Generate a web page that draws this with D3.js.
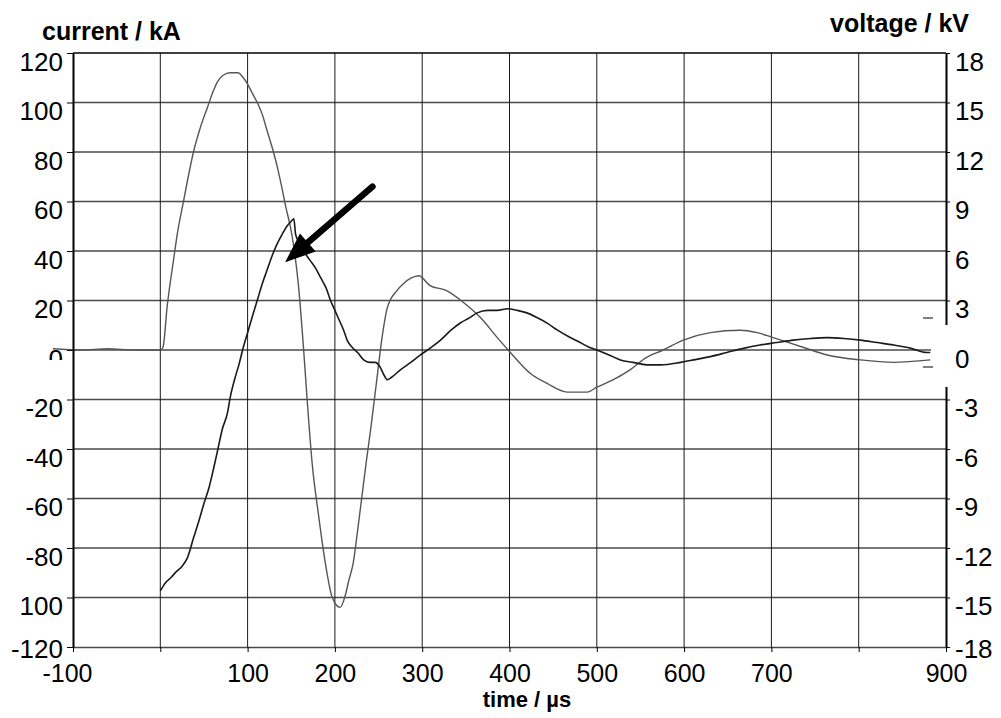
<!DOCTYPE html>
<html>
<head>
<meta charset="utf-8">
<script src="https://cdn.jsdelivr.net/npm/d3@7"></script>
<style>
  body { margin: 0; background: #fff; }
  svg text { font-family: "Liberation Sans", Arial, sans-serif; }
</style>
</head>
<body>
<div id="chart"></div>
<script>
// tick values and their labels (as printed on the original)
var timeTicks = [-100, 0, 100, 200, 300, 400, 500, 600, 700, 800, 900];
var timeLabels = ["-100", "", "100", "200", "300", "400", "500", "600", "700", "", "900"];
var currentTicks = [-120, -100, -80, -60, -40, -20, 0, 20, 40, 60, 80, 100, 120];
var currentLabels = ["-120", "100", "-80", "-60", "-40", "-20", "0", "20", "40", "60", "80", "100", "120"];
var voltageTicks = [-18, -15, -12, -9, -6, -3, 0, 3, 6, 9, 12, 15, 18];
var voltageLabels = ["-18", "-15", "-12", "-9", "-6", "-3", "0", "3", "6", "9", "12", "15", "18"];

// current trace (µs, kA)
var currentTime = [-123, -90, -60, -30, 0, 3, 8, 15, 20, 26, 32, 38, 46, 54, 60, 65, 72, 80, 89, 95, 99,
  105, 111, 117, 122, 128, 134, 139, 143, 151, 158, 164, 168, 174, 181, 189, 197, 206, 212, 216, 221,
  226, 231, 236, 241, 248, 254, 260, 271, 279, 287, 296, 309, 328, 348, 367, 386, 401, 424, 443, 466,
  489, 500, 519, 538, 557, 576, 599, 630, 664, 684, 702, 737, 764, 802, 840, 882];
var currentKA = [0.5, 0, 0.5, 0, 0, 1, 18, 36, 48, 59, 70, 80, 90, 98, 104, 108, 111, 112, 112, 110, 108,
  104, 100, 95, 89, 82, 74, 66, 59, 46, 27, 1, -19, -46, -66, -86, -100, -104, -99, -93, -86,
  -73, -59, -45, -32, -12, 5, 17, 24, 27, 29, 30, 26, 24, 19, 13, 5, -1, -9.5, -13.5, -17,
  -17, -15, -12, -8, -3, 0, 4, 7, 8, 7, 5, 1, -2, -4, -5, -4];

// voltage trace (µs, kV)
var voltageTime = [0, 6, 12, 19, 25, 31, 38, 44, 50, 56, 61, 66, 71, 77, 80, 85, 90, 95, 100, 105, 111,
  117, 122, 128, 134, 140, 145, 150, 153, 155, 160, 166, 172, 178, 184, 190, 195, 200, 205, 210, 214,
  220, 226, 233, 240, 246, 252, 256, 260, 265, 275, 287, 298, 310, 321, 333, 344, 354, 363, 375, 386,
  398, 409, 420, 432, 444, 455, 468, 481, 490, 500, 514, 527, 542, 557, 573, 596, 611, 630, 649, 668,
  687, 706, 725, 745, 764, 783, 802, 821, 840, 860, 878, 882];
var voltageKV = [-14.6, -14.1, -13.8, -13.4, -13.1, -12.6, -11.4, -10.4, -9.3, -8.3, -7.2, -6.0, -4.8, -3.8, -2.9, -1.8, -0.9, 0.15, 1.05, 1.95, 3.0,
  4.05, 4.8, 5.7, 6.45, 7.05, 7.5, 7.8, 7.95, 7.0, 6.45, 5.85, 5.4, 4.95, 4.35, 3.75, 3.0, 2.4, 1.8, 1.2, 0.6,
  0.15, -0.15, -0.6, -0.75, -0.75, -1.05, -1.5, -1.8, -1.65, -1.2, -0.75, -0.3, 0.15, 0.6, 1.2, 1.65, 1.95, 2.25, 2.4, 2.4,
  2.5, 2.4, 2.25, 1.95, 1.6, 1.2, 0.8, 0.45, 0.2, 0, -0.3, -0.6, -0.75, -0.9, -0.9, -0.75, -0.6, -0.4, -0.15, 0.1,
  0.3, 0.45, 0.6, 0.7, 0.75, 0.7, 0.6, 0.45, 0.3, 0.1, -0.15, -0.15];

// annotation arrow: tail and tip in (µs, kA)
var arrowTail = [243, 66];
var arrowTip = [143, 35.5];

var margin = {top: 53, right: 55, bottom: 71, left: 73},
    W = 1001, H = 718,
    width = W - margin.left - margin.right,
    height = H - margin.top - margin.bottom;

var svg = d3.select("#chart").append("svg")
    .attr("width", W).attr("height", H);
var g = svg.append("g")
    .attr("transform", "translate(" + margin.left + "," + margin.top + ")");

var x = d3.scaleLinear().domain([-100, 900]).range([0, width]);
var y = d3.scaleLinear().domain([-120, 120]).range([height, 0]);
var yv = d3.scaleLinear().domain([-18, 18]).range([height, 0]);

// grid
g.append("g").selectAll("line")
    .data(currentTicks.slice(1, -1))
    .enter().append("line")
    .attr("x1", 0).attr("x2", width)
    .attr("y1", function(d) { return y(d); })
    .attr("y2", function(d) { return y(d); })
    .attr("stroke", "#4a4a4a").attr("stroke-width", 1.3);
g.append("g").selectAll("line")
    .data(timeTicks.slice(1, -1))
    .enter().append("line")
    .attr("y1", 0).attr("y2", height)
    .attr("x1", function(d) { return x(d); })
    .attr("x2", function(d) { return x(d); })
    .attr("stroke", "#1a1a1a").attr("stroke-width", 1);

// traces
var cur = currentTime.map(function(t, i) { return [t, currentKA[i]]; });
var vol = voltageTime.map(function(t, i) { return [t, voltageKV[i]]; });

g.append("path").datum(cur)
    .attr("fill", "none").attr("stroke", "#555").attr("stroke-width", 1.4)
    .attr("d", d3.line()
        .x(function(d) { return x(d[0]); })
        .y(function(d) { return y(d[1]); })
        .curve(d3.curveMonotoneX));

g.append("path").datum(vol)
    .attr("fill", "none").attr("stroke", "#1a1a1a").attr("stroke-width", 1.6)
    .attr("d", d3.line()
        .x(function(d) { return x(d[0]); })
        .y(function(d) { return yv(d[1]); })
        .curve(d3.curveMonotoneX));

// arrow
var ax0 = x(arrowTail[0]), ay0 = y(arrowTail[1]),
    ax1 = x(arrowTip[0]), ay1 = y(arrowTip[1]);
var ang = Math.atan2(ay1 - ay0, ax1 - ax0),
    headLen = 30, headHalf = 12;
var bx = ax1 - headLen * Math.cos(ang), by = ay1 - headLen * Math.sin(ang);
g.append("line")
    .attr("x1", ax0).attr("y1", ay0).attr("x2", bx).attr("y2", by)
    .attr("stroke", "#000").attr("stroke-width", 6.5).attr("stroke-linecap", "round");
g.append("path")
    .attr("d", "M" + ax1 + "," + ay1 +
        "L" + (bx + headHalf * Math.sin(ang)) + "," + (by - headHalf * Math.cos(ang)) +
        "L" + (bx - headHalf * Math.sin(ang)) + "," + (by + headHalf * Math.cos(ang)) + "Z")
    .attr("fill", "#000");

// axes
var xAxis = g.append("g")
    .attr("transform", "translate(0," + height + ")")
    .call(d3.axisBottom(x).tickValues(timeTicks)
        .tickFormat(function(d, i) { return timeLabels[i]; })
        .tickSize(5).tickSizeOuter(0));
xAxis.select(".domain").attr("stroke", "#4a4a4a").attr("stroke-width", 1.5);
xAxis.selectAll("text").attr("y", 35).attr("dy", 0)
    .attr("font-size", 25).attr("fill", "#000");
xAxis.selectAll("text").filter(function(d) { return d === -100; }).attr("dx", -6);

var yAxis = g.append("g")
    .call(d3.axisLeft(y).tickValues(currentTicks)
        .tickFormat(function(d, i) { return currentLabels[i]; })
        .tickSize(6).tickSizeOuter(0));
yAxis.select(".domain").attr("stroke", "#000").attr("stroke-width", 2);
yAxis.selectAll("text").attr("x", -10)
    .attr("dy", function(d) { return d === -120 ? 10 : 17; })
    .attr("font-size", 26).attr("fill", "#000");

var yvAxis = g.append("g")
    .attr("transform", "translate(" + width + ",0)")
    .call(d3.axisRight(yv).tickValues(voltageTicks)
        .tickFormat(function(d, i) { return voltageLabels[i]; })
        .tickSize(4).tickSizeOuter(0));
yvAxis.select(".domain").attr("stroke", "#000").attr("stroke-width", 2);
yvAxis.selectAll("text").attr("x", 9)
    .attr("dy", function(d) { return d === -18 ? 10 : 17; })
    .attr("font-size", 26).attr("fill", "#000");

// top frame line
g.append("line")
    .attr("x1", 0).attr("x2", width).attr("y1", 0).attr("y2", 0)
    .attr("stroke", "#000").attr("stroke-width", 1.5);

// white patches seen on the original (clipped labels / axis break)
svg.append("rect")
    .attr("x", 0).attr("y", margin.top + y(0) + 10)
    .attr("width", margin.left - 7).attr("height", 37)
    .attr("fill", "#fff");
svg.append("rect")
    .attr("x", margin.left + width - 15).attr("y", margin.top + y(0) - 25)
    .attr("width", 22).attr("height", 62)
    .attr("fill", "#fff");
[-32, 17].forEach(function(off) {
    svg.append("line")
        .attr("x1", margin.left + width - 23).attr("x2", margin.left + width - 13)
        .attr("y1", margin.top + y(0) + off)
        .attr("y2", margin.top + y(0) + off)
        .attr("stroke", "#000").attr("stroke-width", 1);
});

// titles
svg.append("text").attr("x", 42).attr("y", 40)
    .attr("font-size", 25).attr("font-weight", "bold")
    .text("current / kA");
svg.append("text").attr("x", 969).attr("y", 32)
    .attr("text-anchor", "end")
    .attr("font-size", 25).attr("font-weight", "bold")
    .text("voltage / kV");
svg.append("text").attr("x", 527).attr("y", 707)
    .attr("text-anchor", "middle")
    .attr("font-size", 22).attr("font-weight", "bold")
    .text("time / µs");
</script>
</body>
</html>
